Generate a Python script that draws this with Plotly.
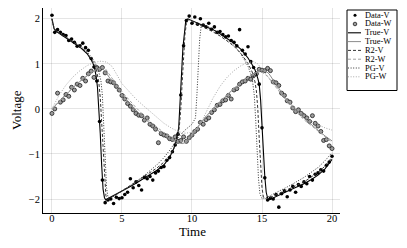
import plotly.graph_objects as go

# ---------------- data ----------------
t_data = [0.0, 0.2, 0.4, 0.6, 0.8, 1.0, 1.2, 1.4, 1.6, 1.8, 2.0, 2.2, 2.4, 2.6, 2.8, 3.0, 3.2, 3.4, 3.6, 3.8,
          4.0, 4.2, 4.4, 4.6, 4.8, 5.0, 5.2, 5.4, 5.6, 5.8, 6.0, 6.2, 6.4, 6.6, 6.8, 7.0, 7.2, 7.4, 7.6, 7.8,
          8.0, 8.2, 8.4, 8.6, 8.8, 9.0, 9.2, 9.4, 9.6, 9.8, 10.0, 10.2, 10.4, 10.6, 10.8, 11.0, 11.2, 11.4, 11.6, 11.8,
          12.0, 12.2, 12.4, 12.6, 12.8, 13.0, 13.2, 13.4, 13.6, 13.8, 14.0, 14.2, 14.4, 14.6, 14.8, 15.0, 15.2, 15.4, 15.6, 15.8,
          16.0, 16.2, 16.4, 16.6, 16.8, 17.0, 17.2, 17.4, 17.6, 17.8, 18.0, 18.2, 18.4, 18.6, 18.8, 19.0, 19.2, 19.4, 19.6, 19.8,
          20.0]
data_v = [2.08, 1.70, 1.76, 1.70, 1.65, 1.63, 1.52, 1.55, 1.48, 1.39, 1.40, 1.46, 1.36, 1.30, 1.12, 0.93, 0.62, -0.28, -1.58, -2.08,
          -2.02, -2.00, -2.10, -1.96, -1.99, -1.97, -1.90, -1.85, -1.55, -1.75, -1.62, -1.70, -1.80, -1.52, -1.55, -1.50, -1.58, -1.42, -1.38, -1.30,
          -1.28, -1.14, -1.08, -0.95, -0.80, -0.56, 0.31, 1.40, 1.96, 2.06, 1.90, 2.04, 1.88, 2.00, 1.86, 1.82, 1.90, 1.77, 1.82, 1.70,
          1.72, 1.65, 1.60, 1.62, 1.52, 1.48, 1.40, 1.76, 1.30, 1.22, 1.38, 1.05, 0.92, 0.78, 0.55, -0.42, -1.53, -2.02, -1.98, -2.00,
          -1.90, -2.18, -1.88, -1.82, -1.95, -1.80, -1.72, -1.85, -1.68, -1.72, -1.62, -1.66, -1.50, -1.58, -1.45, -1.42, -1.35, -1.38, -1.25, -1.18,
          -1.05]
data_w = [-0.10, 0.00, 0.35, 0.15, 0.20, 0.32, 0.28, 0.48, 0.42, 0.55, 0.52, 0.68, 0.62, 0.78, 0.84, 0.70, 0.92, 0.88, 0.92, 0.80,
          0.62, 0.60, 0.58, 0.50, 0.42, 0.30, 0.22, 0.12, 0.06, -0.02, -0.10, -0.14, -0.15, -0.25, -0.20, -0.34, -0.38, -0.45, -0.75, -0.55,
          -0.58, -0.60, -0.66, -0.68, -0.62, -0.72, -0.70, -0.62, -0.72, -0.64, -0.58, -0.50, -0.45, -0.30, -0.34, -0.24, -0.20, -0.08, -0.02, 0.08,
          0.10, 0.18, 0.20, 0.30, 0.22, 0.42, 0.45, 0.55, 0.60, 0.62, 0.68, 0.66, 0.74, 0.78, 0.88, 0.86, 0.85, 0.90, 0.85, 0.60,
          0.58, 0.52, 0.35, 0.30, 0.18, 0.15, 0.02, -0.06, -0.02, -0.10, -0.15, -0.20, -0.28, -0.15, -0.32, -0.38, -0.50, -0.70, -0.68, -0.82,
          -0.88]

t_true_v = [0, 0.15, 0.3, 0.5, 1.0, 1.5, 2.0, 2.5, 2.8, 3.0, 3.15, 3.25, 3.35, 3.45, 3.55, 3.65, 3.75, 3.85, 4.0, 4.5,
            5.0, 5.5, 6.0, 6.5, 7.0, 7.5, 8.0, 8.4, 8.7, 8.9, 9.05, 9.15, 9.25, 9.35, 9.45, 9.55, 9.7, 10.0, 10.5, 11.0,
            11.5, 12.0, 12.5, 13.0, 13.5, 14.0, 14.3, 14.5, 14.7, 14.8, 14.9, 15.0, 15.1, 15.2, 15.3, 15.4, 15.5, 16.0, 16.5, 17.0,
            17.5, 18.0, 18.5, 19.0, 19.5, 20.0]
true_v = [2.0, 1.78, 1.72, 1.68, 1.57, 1.47, 1.37, 1.23, 1.09, 0.96, 0.74, 0.48, 0.05, -0.55, -1.25, -1.78, -1.97, -2.02, -1.99, -1.91,
          -1.82, -1.74, -1.65, -1.55, -1.46, -1.36, -1.24, -1.08, -0.88, -0.66, -0.42, 0.05, 0.75, 1.35, 1.75, 1.94, 2.0, 1.96, 1.9, 1.83,
          1.76, 1.67, 1.57, 1.46, 1.32, 1.13, 0.98, 0.87, 0.68, 0.55, 0.2, -0.45, -1.0, -1.5, -1.85, -1.98, -2.02, -1.94, -1.87, -1.8,
          -1.73, -1.66, -1.57, -1.47, -1.33, -1.12]

t_true_w = [0, 0.5, 1.0, 1.5, 2.0, 2.5, 3.0, 3.4, 3.6, 3.8, 4.0, 4.5, 5.0, 5.5, 6.0, 6.5, 7.0, 7.5, 8.0, 8.5,
            9.0, 9.3, 9.6, 10.0, 10.5, 11.0, 11.5, 12.0, 12.5, 13.0, 13.5, 14.0, 14.5, 14.9, 15.2, 15.5, 16.0, 16.5, 17.0, 17.5,
            18.0, 18.5, 19.0, 19.5, 20.0]
true_w = [0.0, 0.16, 0.32, 0.47, 0.61, 0.74, 0.85, 0.91, 0.9, 0.83, 0.74, 0.52, 0.32, 0.14, -0.03, -0.18, -0.33, -0.46, -0.58, -0.68,
          -0.75, -0.77, -0.74, -0.6, -0.37, -0.17, 0.0, 0.16, 0.31, 0.45, 0.58, 0.7, 0.8, 0.86, 0.86, 0.78, 0.55, 0.32, 0.12, -0.05,
          -0.2, -0.34, -0.48, -0.6, -0.71]

t_r2_v = [0, 0.15, 0.3, 0.5, 1.0, 1.5, 2.0, 2.5, 3.0, 3.2, 3.35, 3.45, 3.55, 3.65, 3.75, 3.85, 3.95, 4.1, 4.5, 5.0,
          5.5, 6.0, 6.5, 7.0, 7.5, 8.0, 8.5, 8.8, 9.0, 9.1, 9.2, 9.3, 9.4, 9.5, 9.6, 9.75, 10.0, 10.5, 11.0, 11.5,
          12.0, 12.5, 13.0, 13.5, 14.0, 14.3, 14.5, 14.6, 14.7, 14.8, 14.9, 15.0, 15.1, 15.3, 16.0, 17.0, 18.0, 19.0, 19.5, 20.0]
r2_v = [2.0, 1.79, 1.73, 1.69, 1.58, 1.48, 1.38, 1.25, 1.02, 0.84, 0.58, 0.25, -0.3, -1.0, -1.6, -1.92, -2.01, -1.99, -1.92, -1.82,
        -1.72, -1.62, -1.52, -1.42, -1.31, -1.18, -1.0, -0.82, -0.6, -0.38, 0.0, 0.6, 1.2, 1.65, 1.9, 1.99, 1.94, 1.87, 1.79, 1.71,
        1.62, 1.51, 1.39, 1.23, 1.01, 0.82, 0.6, 0.4, 0.0, -0.65, -1.3, -1.75, -1.96, -2.0, -1.91, -1.77, -1.62, -1.41, -1.27, -1.07]

t_r2_w = [0, 1.0, 2.0, 3.0, 3.5, 3.8, 4.2, 5.0, 6.0, 7.0, 8.0, 9.0, 9.35, 9.7, 10.0, 11.0, 12.0, 13.0, 14.0, 14.7,
          15.0, 15.4, 16.0, 17.0, 18.0, 19.0, 20.0]
r2_w = [0.0, 0.33, 0.62, 0.85, 0.92, 0.9, 0.72, 0.38, 0.03, -0.28, -0.53, -0.7, -0.73, -0.68, -0.56, -0.16, 0.17, 0.46, 0.7, 0.82,
        0.82, 0.72, 0.48, 0.08, -0.24, -0.5, -0.74]

t_pg_v = [0, 0.15, 0.3, 0.5, 1.0, 1.5, 2.0, 2.5, 3.0, 3.3, 3.5, 3.6, 3.7, 3.8, 3.9, 4.0, 4.2, 4.5, 5.0, 5.5,
          6.0, 6.5, 7.0, 7.5, 8.0, 8.5, 9.0, 9.5, 10.0, 10.25, 10.35, 10.45, 10.55, 10.65, 10.75, 11.0, 11.5, 12.0, 12.5, 13.0,
          13.5, 14.0, 14.3, 14.45, 14.55, 14.65, 14.75, 14.85, 15.0, 15.3, 16.0, 17.0, 18.0, 19.0, 19.5, 20.0]
pg_v = [2.0, 1.8, 1.74, 1.7, 1.6, 1.5, 1.4, 1.27, 1.07, 0.88, 0.62, 0.3, -0.3, -1.15, -1.75, -1.96, -1.98, -1.92, -1.82, -1.72,
        -1.62, -1.5, -1.38, -1.24, -1.08, -0.88, -0.64, -0.47, -0.34, -0.2, 0.3, 1.0, 1.55, 1.82, 1.88, 1.85, 1.77, 1.67, 1.55, 1.41,
        1.22, 0.95, 0.68, 0.3, -0.25, -0.95, -1.55, -1.88, -1.99, -1.97, -1.86, -1.7, -1.52, -1.3, -1.15, -0.97]

t_pg_w = [0, 0.5, 1.0, 1.5, 2.0, 2.5, 3.0, 3.5, 3.9, 4.3, 5.0, 5.5, 6.0, 6.5, 7.0, 7.5, 8.0, 8.5, 9.0, 9.5,
          10.0, 10.5, 11.0, 11.5, 12.0, 12.5, 13.0, 13.5, 14.0, 14.4, 14.7, 15.0, 15.5, 16.0, 16.5, 17.0, 17.5, 18.0, 18.5, 19.0,
          19.5, 20.0]
pg_w = [0.0, 0.3, 0.53, 0.71, 0.85, 0.96, 1.03, 1.06, 1.04, 0.94, 0.56, 0.38, 0.22, 0.08, -0.06, -0.2, -0.32, -0.42, -0.5, -0.54,
        -0.52, -0.4, -0.08, 0.24, 0.5, 0.7, 0.85, 0.96, 1.03, 1.05, 1.0, 0.88, 0.68, 0.48, 0.3, 0.13, -0.02, -0.15, -0.26, -0.35,
        -0.42, -0.47]

x_ticks = [0, 5, 10, 15, 20]
y_ticks = [-2, -1, 0, 1, 2]
y_tick_text = ["\u22122", "\u22121", "0", "1", "2"]
legend_names = ["Data-V", "Data-W", "True-V", "True-W", "R2-V", "R2-W", "PG-V", "PG-W"]

# ---------------- styling ----------------
FONT = "Liberation Serif"
FIG_W, FIG_H = 407, 248
ML, MR, MT, MB = 43, 67, 8, 35
PW = FIG_W - ML - MR
PH = FIG_H - MT - MB

def pxx(x):
    return (x - ML) / PW

def pxy(y):
    return (FIG_H - MB - y) / PH

DASH = "3px,2px"
DOT = "1px,1.6px"
line_styles = {
    "True-V": dict(color="black", width=1.1, dash="solid"),
    "True-W": dict(color="#8c8c8c", width=1.0, dash="solid"),
    "R2-V": dict(color="#333333", width=1.0, dash=DASH),
    "R2-W": dict(color="#a0a0a0", width=1.0, dash=DASH),
    "PG-V": dict(color="#333333", width=1.0, dash=DOT),
    "PG-W": dict(color="#a8a8a8", width=1.0, dash=DOT),
}
W_FILL = "#9c9c9c"
W_EDGE = "#1e1e1e"

fig = go.Figure()
fig.add_trace(go.Scatter(x=t_data, y=data_v, mode="markers", name="Data-V",
                         marker=dict(size=3.6, color="black", line=dict(width=0))))
fig.add_trace(go.Scatter(x=t_data, y=data_w, mode="markers", name="Data-W",
                         marker=dict(size=4.0, color=W_FILL, line=dict(color=W_EDGE, width=0.8))))
for name, xs, ys in [("True-V", t_true_v, true_v), ("True-W", t_true_w, true_w),
                     ("R2-V", t_r2_v, r2_v), ("R2-W", t_r2_w, r2_w),
                     ("PG-V", t_pg_v, pg_v), ("PG-W", t_pg_w, pg_w)]:
    fig.add_trace(go.Scatter(x=xs, y=ys, mode="lines", name=name, line=line_styles[name]))

axis_common = dict(showgrid=True, gridcolor="rgba(0,0,0,0.1)", gridwidth=0.6, zeroline=False,
                   showline=True, linecolor="black", linewidth=1, ticks="", mirror=False,
                   tickfont=dict(family=FONT, size=10.5, color="black"))
fig.update_xaxes(range=[-0.64, 20.57], tickvals=x_ticks, ticklabelstandoff=-5, **axis_common)
fig.update_yaxes(range=[-2.31, 2.24], tickvals=y_ticks, ticktext=y_tick_text, **axis_common)

# manual legend (compact, like the reference)
shapes = [dict(type="rect", xref="paper", yref="paper", x0=pxx(347), x1=pxx(397), y0=pxy(90.5), y1=pxy(10),
               line=dict(color="black", width=1), fillcolor="white", layer="above")]
annotations = []
for i, name in enumerate(legend_names):
    yc = 15.2 + 8.8 * i
    if name == "Data-V":
        shapes.append(dict(type="circle", xref="paper", yref="paper", xsizemode="pixel", ysizemode="pixel",
                           xanchor=pxx(355), yanchor=pxy(yc), x0=-1.5, x1=1.5, y0=-1.5, y1=1.5,
                           fillcolor="black", line=dict(width=0)))
    elif name == "Data-W":
        shapes.append(dict(type="circle", xref="paper", yref="paper", xsizemode="pixel", ysizemode="pixel",
                           xanchor=pxx(355), yanchor=pxy(yc), x0=-1.8, x1=1.8, y0=-1.8, y1=1.8,
                           fillcolor=W_FILL, line=dict(color=W_EDGE, width=0.8)))
    else:
        st = line_styles[name]
        shapes.append(dict(type="line", xref="paper", yref="paper", x0=pxx(348), x1=pxx(361),
                           y0=pxy(yc), y1=pxy(yc), line=dict(color=st["color"], width=st["width"], dash=st["dash"])))
    annotations.append(dict(text=name, xref="paper", yref="paper", x=pxx(362.5), y=pxy(yc),
                            xanchor="left", yanchor="middle", showarrow=False,
                            font=dict(family=FONT, size=8.4, color="black")))

annotations.append(dict(text="Time", xref="paper", yref="paper", x=pxx(192), y=pxy(231.5),
                        xanchor="center", yanchor="middle", showarrow=False,
                        font=dict(family=FONT, size=13, color="black")))
annotations.append(dict(text="Voltage", xref="paper", yref="paper", x=pxx(16), y=pxy(110),
                        xanchor="center", yanchor="middle", showarrow=False, textangle=-90,
                        font=dict(family=FONT, size=13, color="black")))

fig.update_layout(width=FIG_W, height=FIG_H, margin=dict(l=ML, r=MR, t=MT, b=MB, pad=0),
                  showlegend=False, plot_bgcolor="white", paper_bgcolor="white",
                  font=dict(family=FONT, size=10, color="black"),
                  shapes=shapes, annotations=annotations)

fig.write_html("out.html", config={"displayModeBar": False},
               post_script="document.body.style.margin='0';document.body.style.padding='0';")
